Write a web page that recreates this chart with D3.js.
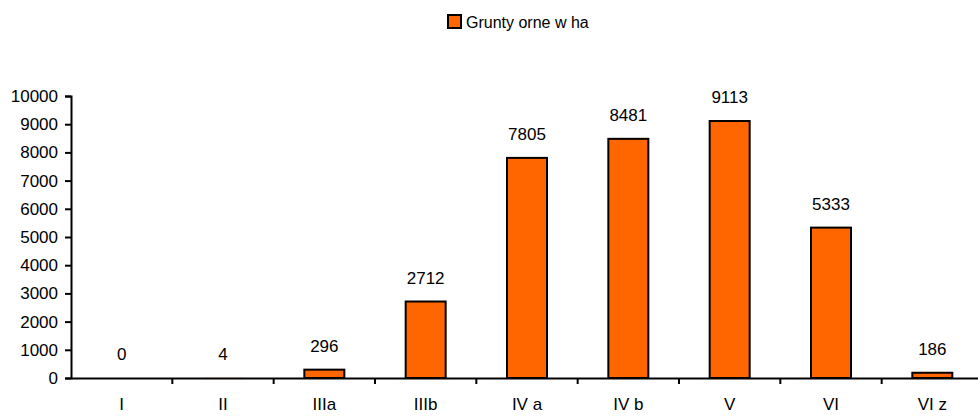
<!DOCTYPE html>
<html><head><meta charset="utf-8">
<script src="https://cdn.jsdelivr.net/npm/d3@7"></script>
<style>body{margin:0;background:#fff}svg{display:block}text{font-family:"Liberation Sans",Arial,sans-serif;fill:#000}</style>
</head><body>
<svg id="c" width="978" height="416"></svg>
<script>
const categories = ["I","II","IIIa","IIIb","IV a","IV b","V","VI","VI z"];
const values = [0,4,296,2712,7805,8481,9113,5333,186];
const yTicks = [0,1000,2000,3000,4000,5000,6000,7000,8000,9000,10000];
const seriesName = "Grunty orne w ha";

(function(){
const svg = d3.select("#c");
const pL = 71, pR = 983, pT = 96, pB = 378;
const xb = d3.scaleBand().domain(categories).range([pL, pR]);
const y = d3.scaleLinear().domain([0,10000]).range([pB, pT]);

// bars
svg.append("g").selectAll("rect").data(values).join("rect")
  .attr("x",(d,i)=>xb(categories[i]) + xb.bandwidth()/2 - 20)
  .attr("width",40)
  .attr("y",d=>y(d))
  .attr("height",d=>pB - y(d))
  .attr("fill","#FF6600").attr("stroke","#000")
  .attr("stroke-width",d=>(pB - y(d)) < 1 ? 0 : 2);

// labels
svg.append("g").selectAll("text").data(values).join("text")
  .attr("x",(d,i)=>xb(categories[i]) + xb.bandwidth()/2)
  .attr("y",d=>y(d) - 18)
  .attr("text-anchor","middle").attr("font-size",17)
  .text(d=>d);

// y axis
const ya = svg.append("g").attr("transform",`translate(${pL},0)`)
  .call(d3.axisLeft(y).tickValues(yTicks).tickSize(6).tickPadding(7).tickFormat(d3.format("d")));
ya.select(".domain").attr("stroke","#000").attr("stroke-width",2);
ya.selectAll(".tick line").attr("stroke","#000").attr("stroke-width",2);
ya.selectAll(".tick text").attr("font-size",17).attr("font-family","Liberation Sans, Arial, sans-serif");

// x axis
const xa = svg.append("g").attr("transform",`translate(0,${pB})`)
  .call(d3.axisBottom(xb).tickSize(0).tickPadding(20));
xa.select(".domain").attr("stroke","#000").attr("stroke-width",2);
xa.selectAll(".tick text").attr("font-size",17).attr("font-family","Liberation Sans, Arial, sans-serif");
xa.selectAll(".bnd").data(categories.slice(1)).join("line")
  .attr("x1",d=>xb(d)).attr("x2",d=>xb(d)).attr("y1",0).attr("y2",6)
  .attr("stroke","#000").attr("stroke-width",2);

// legend
const lg = svg.append("g");
lg.append("rect").attr("x",448).attr("y",15).attr("width",13).attr("height",13)
  .attr("fill","#FF6600").attr("stroke","#000").attr("stroke-width",2);
lg.append("text").attr("x",466).attr("y",28).attr("font-size",16).text(seriesName);
})();
</script>
</body></html>
